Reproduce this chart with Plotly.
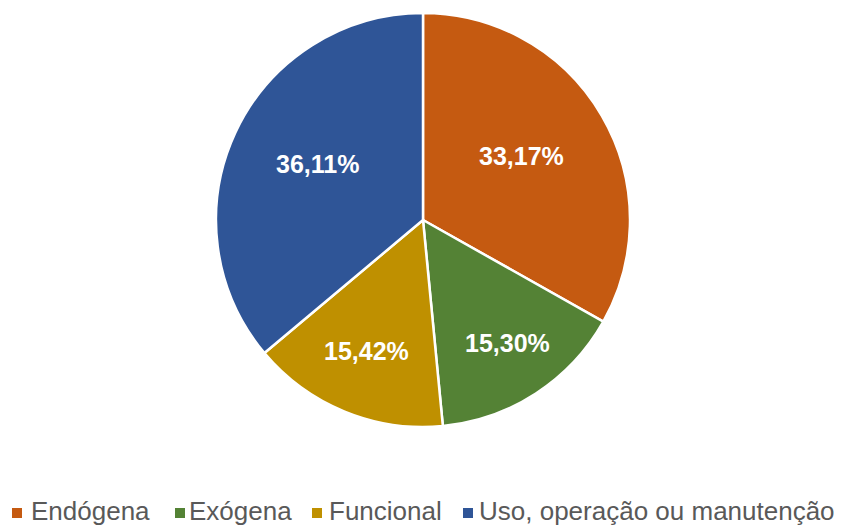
import math
import plotly.graph_objects as go

categories = ["Endógena", "Exógena", "Funcional", "Uso, operação ou manutenção"]
values = [33.17, 15.30, 15.42, 36.11]
colors = ["#C55A11", "#548235", "#BF9000", "#2F5597"]

W, H = 846, 525
OFF = 8  # page body margin offset in the screenshot
cx, cy, R = 423, 220, 207  # screen coords of pie centre / radius

# layout-only settings (label distance from centre as fraction of radius)
label_r = [0.55, 0.75, 0.72, 0.565]
label_dy = -7
legend_sq_x = [12, 175, 312, 463]
legend_tx_x = [29, 187, 327, 477]
legend_y = 511


def px(x):
    return (x - OFF) / W


def py(y):
    return 1 - (y - OFF) / H


fig = go.Figure(go.Pie(
    labels=categories,
    values=values,
    sort=False,
    direction="clockwise",
    rotation=0,
    marker=dict(colors=colors, line=dict(color="white", width=2.5)),
    textinfo="none",
    hoverinfo="label+value",
    showlegend=False,
    domain=dict(x=[px(cx - R), px(cx + R)], y=[py(cy + R), py(cy - R)]),
))

annotations = []
shapes = []
total = sum(values)
cum = 0.0
for i, (cat, v) in enumerate(zip(categories, values)):
    mid = (cum + v / 2) / total * 2 * math.pi
    cum += v
    r = label_r[i] * R
    lx = cx + r * math.sin(mid)
    ly = cy - r * math.cos(mid) + label_dy
    annotations.append(dict(
        x=px(lx), y=py(ly), xref="paper", yref="paper",
        text=f"{v:.2f}%".replace(".", ","), showarrow=False,
        font=dict(family="Liberation Sans, Arial", size=25, color="white", weight="bold"),
        xanchor="center", yanchor="middle",
    ))
    # legend entry
    shapes.append(dict(
        type="rect", xref="paper", yref="paper",
        x0=px(legend_sq_x[i]), x1=px(legend_sq_x[i] + 10),
        y0=py(legend_y + 7), y1=py(legend_y - 3),
        fillcolor=colors[i], line=dict(width=0),
    ))
    annotations.append(dict(
        x=px(legend_tx_x[i]), y=py(legend_y), xref="paper", yref="paper",
        text=cat, showarrow=False,
        font=dict(family="Liberation Sans, Arial", size=26, color="#595959"),
        xanchor="left", yanchor="middle",
    ))

fig.update_layout(
    width=W, height=H,
    margin=dict(l=0, r=0, t=0, b=0),
    paper_bgcolor="white",
    separators=",.",
    annotations=annotations,
    shapes=shapes,
)

fig.write_html("out.html")
